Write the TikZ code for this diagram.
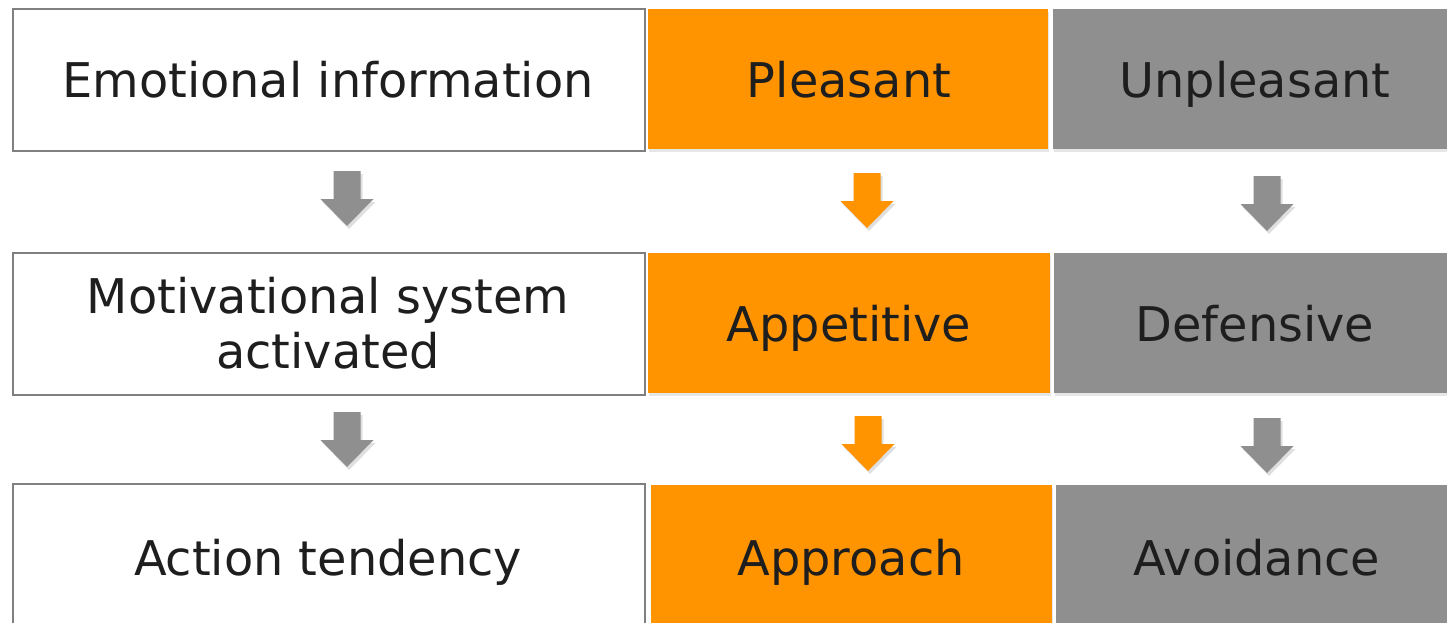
\documentclass[tikz,border=0pt]{standalone}
\usepackage{fontspec}
\setmainfont{DejaVu Sans}
\usetikzlibrary{shadows}
\definecolor{orng}{RGB}{255,148,0}
\definecolor{grayfill}{RGB}{143,143,143}
\definecolor{outl}{RGB}{128,128,128}
\definecolor{txt}{RGB}{30,30,30}
\tikzset{
  cell/.style={anchor=north west, inner sep=0pt},
  whitecell/.style={cell, draw=outl, line width=2pt, fill=white},
  orangecell/.style={cell, fill=orng, drop shadow={shadow xshift=1pt, shadow yshift=-3pt, opacity=0.2}},
  graycell/.style={cell, fill=grayfill, drop shadow={shadow xshift=1pt, shadow yshift=-3pt, opacity=0.2}},
  label/.style={anchor=base, inner sep=0pt, text=txt, font=\fontsize{47.8}{55}\selectfont},
  arrowshadow/.style={drop shadow={shadow xshift=2pt, shadow yshift=-3pt, opacity=0.25}}
}
\newcommand\blockarr[4]{% name, x center, y top, colour
  \coordinate (#1) at (#2,#3);
  \fill[#4, arrowshadow] ([xshift=-13.5pt]#1) -- ([xshift=13.5pt]#1)
    -- ([xshift=13.5pt,yshift=-28pt]#1) -- ([xshift=26.5pt,yshift=-28pt]#1)
    -- ([yshift=-55pt]#1) -- ([xshift=-26.5pt,yshift=-28pt]#1)
    -- ([xshift=-13.5pt,yshift=-28pt]#1) -- cycle;
}
\begin{document}
\begin{tikzpicture}[x=1pt,y=-1pt]
\useasboundingbox (0,0) rectangle (1447,623);
\clip (0,0) rectangle (1447,623);
% row 1
\node[whitecell, minimum width=632pt, minimum height=142pt] (emo) at (12,8) {};
\node[orangecell, minimum width=400pt, minimum height=140pt] (pleas) at (648,9) {};
\node[graycell, minimum width=410pt, minimum height=140pt] (unpleas) at (1053,9) {};
\node[label] (emot) at (328,98) {Emotional information};
\node[label] (pleast) at (849,98) {Pleasant};
\node[label] (unpleast) at (1255,98) {Unpleasant};
% row 2
\node[whitecell, minimum width=632pt, minimum height=142pt] (mot) at (12,252) {};
\node[orangecell, minimum width=402pt, minimum height=140pt] (app) at (648,253) {};
\node[graycell, minimum width=410pt, minimum height=140pt] (def) at (1054,253) {};
\node[label] (mott1) at (328,313) {Motivational system};
\node[label] (mott2) at (328,368) {activated};
\node[label] (appt) at (849,341) {Appetitive};
\node[label] (deft) at (1255,341) {Defensive};
% row 3
\node[whitecell, minimum width=632pt, minimum height=160pt] (act) at (12,483) {};
\node[orangecell, minimum width=401pt, minimum height=150pt] (appr) at (651,485) {};
\node[graycell, minimum width=400pt, minimum height=150pt] (avoid) at (1056,485) {};
\node[label] (actt) at (328,575) {Action tendency};
\node[label] (apprt) at (851,575) {Approach};
\node[label] (avoidt) at (1257,575) {Avoidance};
% arrows
\blockarr{a1}{347}{171}{grayfill}
\blockarr{a2}{347}{412}{grayfill}
\blockarr{b1}{867}{173}{orng}
\blockarr{b2}{868}{416}{orng}
\blockarr{c1}{1267}{176}{grayfill}
\blockarr{c2}{1267}{418}{grayfill}
\end{tikzpicture}
\end{document}
